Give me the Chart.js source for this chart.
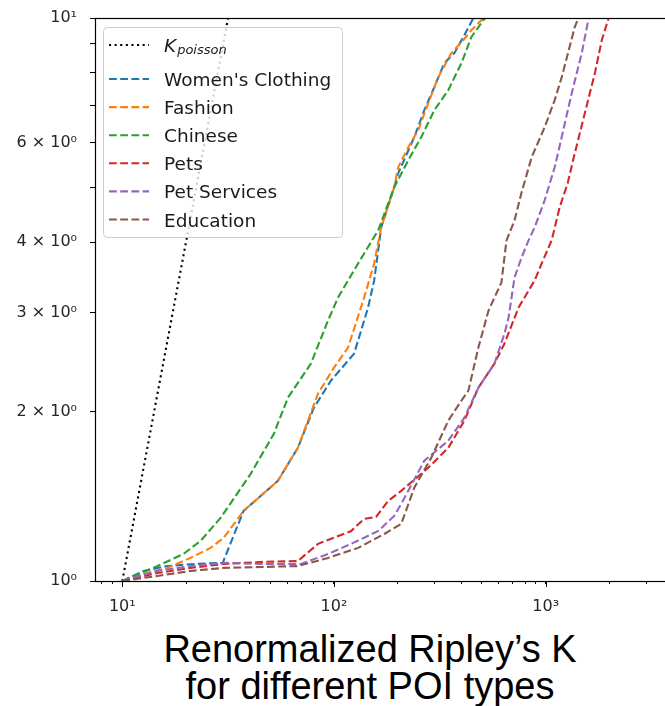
<!DOCTYPE html>
<html>
<head>
<meta charset="utf-8">
<script src="https://cdn.jsdelivr.net/npm/chart.js@4.4.0/dist/chart.umd.min.js"></script>
<style>
html, body { margin: 0; padding: 0; background: #fff; overflow: hidden; width: 665px; height: 706px; }
#wrap { position: absolute; left: 0; top: 0; width: 675px; height: 620px; }
#title { position: absolute; left: 0; top: 631px; width: 740px; text-align: center;
  font-family: "Liberation Sans", Arial, sans-serif; font-size: 38px; line-height: 37px; color: #000; }
</style>
</head>
<body>
<div id="wrap"><canvas id="chart" width="675" height="620"></canvas></div>
<div id="title">Renormalized Ripley’s K<br>for different POI types</div>
<script>
// radius (x) and renormalized K (y)
var kPoissonR = [10, 31.6]
var kPoissonK = [1, 10]

var womensR = [10, 12.6, 16.3, 21.7, 29.8, 37.4, 54.3, 67.5, 80.4, 96.8, 124.5, 144.9, 154.8, 167.2, 192.4, 201, 239.4, 267, 297.9, 332, 370.5, 408.7, 455.7]
var womensK = [1, 1.042, 1.063, 1.072, 1.077, 1.332, 1.506, 1.724, 2.032, 2.27, 2.535, 3.06, 3.419, 4.248, 5.003, 5.299, 6.142, 6.86, 7.539, 8.317, 8.664, 9.253, 10]

var fashionR = [10, 12.6, 16.3, 21.0, 26.1, 30.1, 37.4, 54.3, 67.5, 84.0, 100, 116.5, 138.8, 154.8, 167.2, 192.4, 201, 224.4, 250, 278.9, 311, 358.6, 408.7, 445.9, 497.5, 508]
var fashionK = [1, 1.029, 1.055, 1.099, 1.145, 1.193, 1.332, 1.506, 1.724, 2.151, 2.393, 2.598, 3.188, 3.665, 4.248, 5.003, 5.431, 5.895, 6.32, 7.059, 7.852, 8.664, 9.139, 9.52, 9.917, 10]

var chineseR = [10, 14.65, 19.45, 23.4, 29.1, 40.4, 52.0, 60.6, 77.8, 93.7, 104.5, 130, 161.8, 192.4, 224.4, 258.3, 297.9, 346.7, 400, 445.9, 508.4, 518]
var chineseK = [1, 1.063, 1.117, 1.178, 1.294, 1.55, 1.826, 2.117, 2.433, 2.902, 3.188, 3.665, 4.196, 5.003, 5.588, 6.142, 6.86, 7.446, 8.317, 9.253, 9.917, 10]

var petsR = [10, 14.65, 20.98, 30.1, 45.1, 67.5, 84.0, 120.5, 138.8, 158.1, 180.3, 207.8, 278.9, 346.7, 413, 481, 572.8, 639, 744.7, 887.3, 957.8, 1067, 1164, 1270, 1358, 1531, 1708, 1842, 1990]
var petsK = [1, 1.033, 1.055, 1.072, 1.081, 1.085, 1.164, 1.227, 1.289, 1.3, 1.388, 1.446, 1.589, 1.724, 1.927, 2.205, 2.433, 2.641, 3.06, 3.419, 3.665, 4.027, 4.609, 5.086, 5.658, 6.776, 7.982, 9.139, 10.04]

var petServicesR = [10, 14.65, 20.98, 30.1, 45.1, 69.8, 93.7, 120.5, 161.8, 192.4, 207.8, 267, 346.7, 413, 481, 572.8, 639, 668, 712.8, 769.7, 830, 887.3, 989, 1103, 1152, 1328, 1481, 1600]
var petServicesK = [1, 1.042, 1.063, 1.077, 1.072, 1.072, 1.117, 1.164, 1.227, 1.305, 1.371, 1.635, 1.775, 1.95, 2.205, 2.433, 2.751, 2.938, 3.461, 3.756, 4.027, 4.248, 4.744, 5.431, 5.823, 7.354, 8.664, 10.04]

var educationR = [10, 14.65, 20.98, 30.1, 45.1, 67.5, 93.7, 130, 172.7, 207.8, 239.4, 288.1, 346.7, 400, 431.5, 481, 537, 618, 653, 712.8, 769.7, 858.5, 989, 1103, 1191, 1286, 1372, 1433]
var educationK = [1, 1.021, 1.042, 1.055, 1.059, 1.063, 1.099, 1.145, 1.212, 1.263, 1.464, 1.655, 1.927, 2.091, 2.178, 2.598, 3.022, 3.391, 4.027, 4.371, 4.902, 5.658, 6.397, 7.147, 7.852, 8.771, 9.638, 10.04]

var seriesNames = ['K_poisson', "Women's Clothing", 'Fashion', 'Chinese', 'Pets', 'Pet Services', 'Education']

// axes
var xMin = 7.43, xMax = 4083
var yMin = 1, yMax = 10
var xTickValues = [8, 9, 10, 20, 30, 40, 50, 60, 70, 80, 90, 100, 200, 300, 400, 500, 600, 700, 800, 900, 1000, 2000, 3000, 4000]
var xMajorValues = [10, 100, 1000]
var xMajorLabels = ['10¹', '10²', '10³']
var yTickValues = [1, 2, 3, 4, 5, 6, 7, 8, 9, 10]
var yTickLabels = ['10⁰', '2 × 10⁰', '3 × 10⁰', '4 × 10⁰', '', '6 × 10⁰', '', '', '', '10¹']

function points(xs, ys) {
    return xs.map(function(x, i) { return {x: x, y: ys[i]} })
}

var dash = [7.8, 3.4]
var styles = [
    {color: '#000000', dash: [2.1, 3.5]},
    {color: '#1f77b4', dash: dash},
    {color: '#ff7f0e', dash: dash},
    {color: '#2ca02c', dash: dash},
    {color: '#d62728', dash: dash},
    {color: '#9467bd', dash: dash},
    {color: '#8c564b', dash: dash}
]
var seriesData = [
    points(kPoissonR, kPoissonK),
    points(womensR, womensK),
    points(fashionR, fashionK),
    points(chineseR, chineseK),
    points(petsR, petsK),
    points(petServicesR, petServicesK),
    points(educationR, educationK)
]

var datasets = seriesData.map(function(d, i) {
    return {
        label: seriesNames[i],
        data: d,
        borderColor: styles[i].color,
        borderDash: styles[i].dash,
        borderWidth: 2.1,
        pointRadius: 0,
        tension: 0,
        fill: false,
        order: seriesData.length - i
    }
})

var tickFont = {family: '"DejaVu Sans"', size: 16}
var tickColor = '#262626'

var extras = {
    id: 'extras',
    afterDatasetsDraw: function(chart) {
        var ctx = chart.ctx, a = chart.chartArea, sx = chart.scales.x
        ctx.save()
        ctx.strokeStyle = '#000'
        ctx.lineWidth = 1.2
        ctx.strokeRect(a.left + 0.5, a.top + 0.5, a.right - a.left, a.bottom - a.top)
        ctx.lineWidth = 1
        xMajorValues.forEach(function(v) {
            var px = Math.round(sx.getPixelForValue(v)) + 0.5
            ctx.beginPath()
            ctx.moveTo(px, a.bottom)
            ctx.lineTo(px, a.bottom + 6)
            ctx.stroke()
        })
        ctx.restore()
    },
    afterDraw: function(chart) {
        var ctx = chart.ctx
        ctx.save()
        // legend box
        var bx = 103.5, by = 27.5, bw = 239, bh = 210, r = 4
        ctx.beginPath()
        ctx.moveTo(bx + r, by)
        ctx.arcTo(bx + bw, by, bx + bw, by + bh, r)
        ctx.arcTo(bx + bw, by + bh, bx, by + bh, r)
        ctx.arcTo(bx, by + bh, bx, by, r)
        ctx.arcTo(bx, by, bx + bw, by, r)
        ctx.closePath()
        ctx.fillStyle = 'rgba(255,255,255,0.8)'
        ctx.fill()
        ctx.strokeStyle = '#cccccc'
        ctx.lineWidth = 1
        ctx.stroke()

        chart.data.datasets.forEach(function(ds, i) {
            var y = i === 0 ? 45 : 79 + (i - 1) * 28.1
            ctx.beginPath()
            ctx.setLineDash(ds.borderDash)
            ctx.strokeStyle = ds.borderColor
            ctx.lineWidth = ds.borderWidth
            ctx.moveTo(109, y)
            ctx.lineTo(149, y)
            ctx.stroke()
            ctx.setLineDash([])
            ctx.fillStyle = '#1a1a1a'
            ctx.textBaseline = 'alphabetic'
            ctx.textAlign = 'left'
            var parts = ds.label.split('_')
            if (parts.length > 1) {
                ctx.font = 'italic 18.5px "DejaVu Sans"'
                ctx.fillText(parts[0], 164, y + 7)
                var w = ctx.measureText(parts[0]).width
                ctx.font = 'italic 13px "DejaVu Sans"'
                ctx.fillText(parts[1], 164 + w + 1, y + 9)
            } else {
                ctx.font = '18.5px "DejaVu Sans"'
                ctx.fillText(ds.label, 164, y + 7)
            }
        })
        ctx.restore()
    }
}

var ctx = document.getElementById('chart').getContext('2d')
var chart = new Chart(ctx, {
    type: 'line',
    data: {datasets: datasets},
    options: {
        responsive: false,
        animation: false,
        devicePixelRatio: 1,
        layout: {padding: {top: 18, left: 0, right: 0, bottom: 0}},
        plugins: {
            legend: {display: false},
            tooltip: {enabled: false}
        },
        scales: {
            x: {
                type: 'logarithmic',
                min: xMin,
                max: xMax,
                border: {display: false},
                grid: {drawOnChartArea: false, drawTicks: true, tickLength: 3, tickColor: '#000', tickWidth: 1},
                ticks: {
                    autoSkip: false,
                    maxRotation: 0,
                    padding: 13,
                    color: tickColor,
                    font: tickFont,
                    callback: function(value) {
                        var k = xMajorValues.indexOf(value)
                        return k >= 0 ? xMajorLabels[k] : ''
                    }
                },
                afterBuildTicks: function(scale) {
                    scale.ticks = xTickValues.map(function(v) { return {value: v} })
                },
                afterFit: function(scale) {
                    scale.height = 39
                    scale.paddingLeft = 0
                    scale.paddingRight = 0
                }
            },
            y: {
                type: 'logarithmic',
                min: yMin,
                max: yMax,
                border: {display: false},
                grid: {drawOnChartArea: false, drawTicks: true, tickLength: 5, tickColor: '#000', tickWidth: 1},
                ticks: {
                    autoSkip: false,
                    padding: 13,
                    color: tickColor,
                    font: tickFont,
                    callback: function(value) {
                        var k = yTickValues.indexOf(value)
                        return k >= 0 ? yTickLabels[k] : ''
                    }
                },
                afterBuildTicks: function(scale) {
                    scale.ticks = yTickValues.map(function(v) { return {value: v} })
                },
                afterFit: function(scale) {
                    scale.width = 95
                    scale.paddingTop = 0
                    scale.paddingBottom = 0
                }
            }
        }
    },
    plugins: [extras]
})
</script>
</body>
</html>
